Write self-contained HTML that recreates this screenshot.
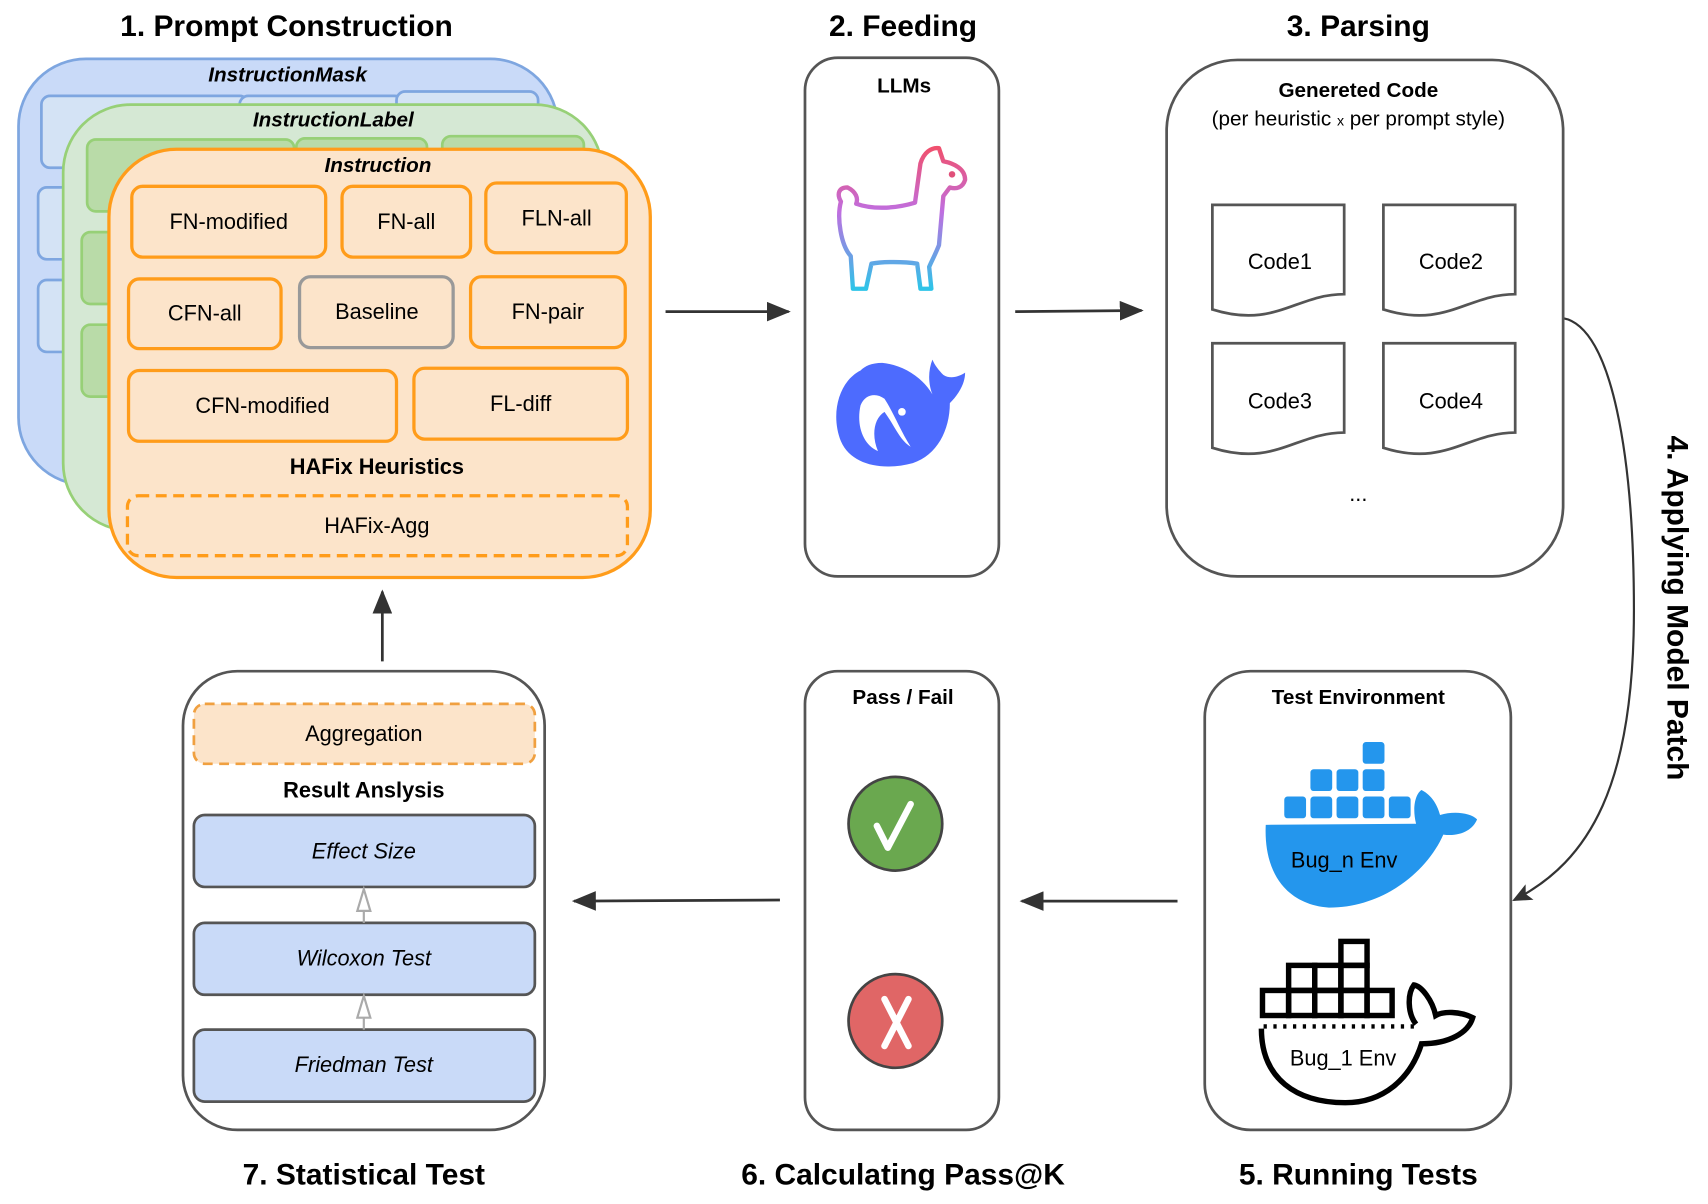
<!DOCTYPE html>
<html><head><meta charset="utf-8"><style>
html,body{margin:0;padding:0;background:#fff;}
svg{display:block;}
text{font-family:"Liberation Sans",Arial,sans-serif;}
</style></head><body>
<svg width="1708" height="1204" viewBox="0 0 1568 1105" preserveAspectRatio="none" xmlns="http://www.w3.org/2000/svg">
<defs>
<marker id="ah" markerWidth="22" markerHeight="18" refX="20" refY="9" orient="auto" markerUnits="userSpaceOnUse" viewBox="0 0 22 18"><path d="M0,0 L22,9 L0,18 z" fill="#333"/></marker>
<marker id="ah2" markerWidth="18" markerHeight="16" refX="16" refY="8" orient="auto" markerUnits="userSpaceOnUse" viewBox="0 0 18 16"><path d="M0,0 L18,8 L0,16 L4,8 z" fill="#333"/></marker>
<linearGradient id="lg" x1="0" y1="0" x2="0" y2="1"><stop offset="0" stop-color="#f0506e"/><stop offset="0.45" stop-color="#c06ee0"/><stop offset="1" stop-color="#2ec4e8"/></linearGradient>
</defs>
<g font-weight="bold" font-size="27.5" text-anchor="middle" fill="#000">
<text x="263" y="33">1. Prompt Construction</text>
<text x="829" y="33">2. Feeding</text>
<text x="1247" y="33">3. Parsing</text>
<text x="334" y="1087">7. Statistical Test</text>
<text x="829" y="1087">6. Calculating Pass@K</text>
<text x="1247" y="1087">5. Running Tests</text>
<text transform="translate(1531,558) rotate(90)" x="0" y="0">4. Applying Model Patch</text>
</g>
<rect x="17" y="54" width="495" height="391" rx="62" fill="#c9daf8" stroke="#7ea6e0" stroke-width="2.5"/>
<g fill="#d4e3f5" stroke="#7ea6e0" stroke-width="2.5">
<rect x="38" y="88" width="190" height="66" rx="8"/><rect x="220" y="88" width="150" height="60" rx="8"/><rect x="364" y="84" width="130" height="60" rx="8"/>
<rect x="35" y="172" width="80" height="66" rx="8"/><rect x="35" y="257" width="80" height="66" rx="8"/>
</g>
<text x="264" y="75" font-size="19" font-weight="bold" font-style="italic" text-anchor="middle">InstructionMask</text>
<rect x="58" y="96" width="495" height="391" rx="62" fill="#d5e8d4" stroke="#97d077" stroke-width="2.5"/>
<g fill="#b9dba8" stroke="#97d077" stroke-width="2.5">
<rect x="80" y="128" width="190" height="66" rx="8"/><rect x="272" y="127" width="120" height="60" rx="8"/><rect x="406" y="125" width="130" height="60" rx="8"/>
<rect x="75" y="213" width="80" height="66" rx="8"/><rect x="75" y="298" width="80" height="66" rx="8"/>
</g>
<text x="306" y="116" font-size="19" font-weight="bold" font-style="italic" text-anchor="middle">InstructionLabel</text>
<rect x="100" y="137" width="497" height="393" rx="62" fill="#fce4ca" stroke="#ff9c1a" stroke-width="3"/>
<text x="347" y="158" font-size="19" font-weight="bold" font-style="italic" text-anchor="middle">Instruction</text>
<g fill="#fce4ca" stroke="#ff9c1a" stroke-width="3">
<rect x="121" y="171" width="178" height="65" rx="10"/>
<rect x="314" y="171" width="118" height="65" rx="10"/>
<rect x="446" y="168" width="129" height="64" rx="10"/>
<rect x="118" y="256" width="140" height="64" rx="10"/>
<rect x="275" y="254" width="141" height="65" rx="10" stroke="#999"/>
<rect x="432" y="254" width="142" height="65" rx="10"/>
<rect x="118" y="340" width="246" height="65" rx="10"/>
<rect x="380" y="338" width="196" height="65" rx="10"/>
<rect x="117" y="455" width="459" height="55" rx="10" stroke-dasharray="10,6"/>
</g>
<g font-size="20" text-anchor="middle">
<text x="210" y="210">FN-modified</text>
<text x="373" y="210">FN-all</text>
<text x="511" y="207">FLN-all</text>
<text x="188" y="294">CFN-all</text>
<text x="346" y="293">Baseline</text>
<text x="503" y="293">FN-pair</text>
<text x="241" y="379">CFN-modified</text>
<text x="478" y="377">FL-diff</text>
<text x="346" y="489">HAFix-Agg</text>
</g>
<text x="346" y="435" font-size="20" font-weight="bold" text-anchor="middle">HAFix Heuristics</text>
<g stroke="#333" stroke-width="2.5" fill="none">
<line x1="611" y1="286" x2="724" y2="286" marker-end="url(#ah)"/>
<line x1="932" y1="286" x2="1048" y2="285" marker-end="url(#ah)"/>
<line x1="1081" y1="827" x2="938" y2="827" marker-end="url(#ah)"/>
<line x1="716" y1="826" x2="527" y2="827" marker-end="url(#ah)"/>
<line x1="351" y1="607" x2="351" y2="543" marker-end="url(#ah)"/>
<path d="M1435,292 C1480,300 1500,420 1500,560 C1500,720 1460,790 1390,826" stroke-width="2" marker-end="url(#ah2)"/>
</g>
<rect x="739" y="53" width="178" height="476" rx="30" fill="#fff" stroke="#555" stroke-width="2.5"/>
<text x="830" y="85" font-size="19" font-weight="bold" text-anchor="middle">LLMs</text>
<path d="M783,265 L781,235 C772,225 768,200 772,185 C768,178 770,172 778,172 C786,176 788,182 786,187 C800,192 820,192 840,186 L845,150 C848,140 855,135 862,136 L866,148 C876,150 886,155 886,165 C884,172 878,174 872,172 L866,180 L862,225 C858,235 855,240 853,245 L855,265 L845,265 L842,242 C830,240 810,240 800,242 L795,265 Z" fill="none" stroke="url(#lg)" stroke-width="4" stroke-linejoin="round"/>
<circle cx="874" cy="160" r="3" fill="#e0507a"/>
<path d="M790,340 C770,350 762,380 772,405 C782,428 812,432 838,425 C860,418 872,395 872,370 C880,362 886,352 886,342 C880,346 872,348 866,344 C862,340 858,335 856,330 C852,340 852,352 856,362 C846,345 828,335 810,333 C800,333 794,336 790,340 Z" fill="#4d6bfe"/>
<path d="M790,372 C786,390 792,408 806,414 C800,400 802,384 812,378 C822,392 826,404 836,410 C826,394 820,378 812,366 C804,360 794,362 790,372 Z" fill="#fff"/>
<circle cx="828" cy="378" r="3.5" fill="#fff"/>
<rect x="1071" y="55" width="364" height="474" rx="65" fill="#fff" stroke="#555" stroke-width="2.5"/>
<text x="1247" y="89" font-size="19" font-weight="bold" text-anchor="middle">Genereted Code</text>
<text x="1247" y="115" font-size="19" text-anchor="middle">(per heuristic <tspan font-size="13">x</tspan> per prompt style)</text>
<g fill="#fff" stroke="#555" stroke-width="2.5">
<path d="M1113,188 H1234 V270 C1190,270 1170,302 1113,284 Z"/>
<path d="M1270,188 H1391 V270 C1347,270 1327,302 1270,284 Z"/>
<path d="M1113,315 H1234 V397 C1190,397 1170,429 1113,411 Z"/>
<path d="M1270,315 H1391 V397 C1347,397 1327,429 1270,411 Z"/>
</g>
<g font-size="20" text-anchor="middle">
<text x="1175" y="247">Code1</text><text x="1332" y="247">Code2</text>
<text x="1175" y="375">Code3</text><text x="1332" y="375">Code4</text>
<text x="1247" y="460">...</text>
</g>
<rect x="1106" y="616" width="281" height="421" rx="42" fill="#fff" stroke="#555" stroke-width="2.5"/>
<text x="1247" y="646" font-size="19" font-weight="bold" text-anchor="middle">Test Environment</text>
<g fill="#2496ed">
<rect x="1251" y="681" width="20" height="20" rx="3"/>
<rect x="1203" y="706" width="20" height="20" rx="3"/><rect x="1227" y="706" width="20" height="20" rx="3"/><rect x="1251" y="706" width="20" height="20" rx="3"/>
<rect x="1179" y="731" width="20" height="20" rx="3"/><rect x="1203" y="731" width="20" height="20" rx="3"/><rect x="1227" y="731" width="20" height="20" rx="3"/><rect x="1251" y="731" width="20" height="20" rx="3"/><rect x="1275" y="731" width="20" height="20" rx="3"/>
<path d="M1162,757 L1300,756 C1296,740 1300,728 1305,725 C1315,730 1320,740 1322,748 C1335,744 1350,746 1356,752 C1352,762 1340,768 1325,766 C1310,800 1270,833 1220,833 C1180,830 1160,800 1162,757 Z"/>
</g>
<text x="1234" y="796" font-size="20" text-anchor="middle">Bug_n Env</text>
<g fill="none" stroke="#000" stroke-width="5">
<rect x="1159" y="909" width="24" height="23"/><rect x="1183" y="909" width="24" height="23"/><rect x="1207" y="909" width="24" height="23"/><rect x="1231" y="909" width="24" height="23"/><rect x="1255" y="909" width="23" height="23"/>
<rect x="1183" y="886" width="24" height="23"/><rect x="1207" y="886" width="24" height="23"/><rect x="1231" y="886" width="24" height="23"/>
<rect x="1231" y="864" width="24" height="22"/>
<path d="M1158,944 C1158,990 1190,1012 1235,1012 C1270,1012 1295,990 1305,958 C1330,958 1348,948 1352,934 C1340,928 1325,928 1318,932 C1315,918 1305,905 1298,904 C1292,912 1292,930 1300,940"/>
</g>
<line x1="1160" y1="942" x2="1300" y2="942" stroke="#000" stroke-width="4" stroke-dasharray="3,6"/>
<text x="1233" y="978" font-size="20" text-anchor="middle">Bug_1 Env</text>
<rect x="739" y="616" width="178" height="421" rx="30" fill="#fff" stroke="#555" stroke-width="2.5"/>
<text x="829" y="646" font-size="19" font-weight="bold" text-anchor="middle">Pass / Fail</text>
<circle cx="822" cy="756" r="43" fill="#6aa84f" stroke="#444" stroke-width="2.5"/>
<path d="M805,758 L815,778 L836,738" fill="none" stroke="#fff" stroke-width="6" stroke-linecap="round" stroke-linejoin="round"/>
<circle cx="822" cy="937" r="43" fill="#e06666" stroke="#444" stroke-width="2.5"/>
<path d="M812,917 L834,960 M834,917 L812,960" fill="none" stroke="#fff" stroke-width="6" stroke-linecap="round"/>
<rect x="168" y="616" width="332" height="421" rx="50" fill="#fff" stroke="#555" stroke-width="2.5"/>
<rect x="178" y="646" width="313" height="55" rx="10" fill="#fce4ca" stroke="#f0a040" stroke-width="2.5" stroke-dasharray="9,6"/>
<text x="334" y="680" font-size="20" text-anchor="middle">Aggregation</text>
<text x="334" y="732" font-size="20" font-weight="bold" text-anchor="middle">Result Anslysis</text>
<g fill="#c9daf8" stroke="#555" stroke-width="2.5">
<rect x="178" y="748" width="313" height="66" rx="10"/>
<rect x="178" y="847" width="313" height="66" rx="10"/>
<rect x="178" y="945" width="313" height="66" rx="10"/>
</g>
<g fill="#fff" stroke="#aaa" stroke-width="2">
<line x1="334" y1="847" x2="334" y2="836"/><path d="M328,836 L334,816 L340,836 Z"/>
<line x1="334" y1="945" x2="334" y2="934"/><path d="M328,934 L334,914 L340,934 Z"/>
</g>
<g font-size="20" font-style="italic" text-anchor="middle">
<text x="334" y="788">Effect Size</text>
<text x="334" y="886">Wilcoxon Test</text>
<text x="334" y="984">Friedman Test</text>
</g>
</svg>
</body></html>
